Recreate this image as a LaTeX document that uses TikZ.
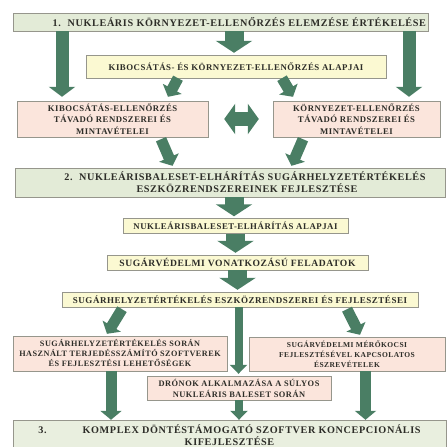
\documentclass[tikz,border=0pt]{standalone}
\usepackage{fontspec}
\setmainfont{Liberation Serif}
\newfontfamily\boxfont[LetterSpace=6]{Liberation Serif}
\usetikzlibrary{arrows.meta}

\definecolor{arrgreen}{RGB}{74,126,100}
\definecolor{headfill}{RGB}{227,235,215}
\definecolor{basefill}{RGB}{251,249,210}
\definecolor{taskfill}{RGB}{251,229,220}
\definecolor{boxline}{RGB}{150,150,140}
\definecolor{txt}{RGB}{45,45,40}

\begin{document}
\begin{tikzpicture}[
    x=1pt, y=-1pt,
    head/.style={
        rectangle, draw=boxline, fill=headfill, text=txt,
        align=center, inner sep=0pt,
        font=\boxfont\bfseries\fontsize{10.2}{12}\selectfont
    },
    base/.style={
        rectangle, draw=boxline, fill=basefill, text=txt,
        align=center, inner sep=0pt,
        font=\boxfont\bfseries\fontsize{9}{10}\selectfont
    },
    task/.style={
        rectangle, draw=boxline, fill=taskfill, text=txt,
        align=center, inner sep=0pt,
        font=\boxfont\bfseries\fontsize{8.7}{11.5}\selectfont
    },
    bigarr/.style={draw=arrgreen, line width=13pt,
        -{Triangle[width=26pt,length=10pt]}},
    widearr/.style={draw=arrgreen, line width=19pt,
        -{Triangle[width=36pt,length=12pt]}},
    midarr/.style={draw=arrgreen, line width=11pt,
        -{Triangle[width=21pt,length=9pt]}},
    thinarr/.style={draw=arrgreen, line width=8pt,
        -{Triangle[width=17pt,length=9pt]}},
]
\useasboundingbox (0,0) rectangle (447,447);

% stage 1
\node[head, text width=411pt, inner xsep=2pt, minimum height=18pt, align=right,
      font=\boxfont\bfseries\fontsize{10.2}{12}\selectfont] (nk) at (220.5,22)
    {1.\ \ NUKLEÁRIS KÖRNYEZET-ELLENŐRZÉS ELEMZÉSE ÉRTÉKELÉSE};
\node[base, minimum width=300pt, minimum height=23pt,
      font=\boxfont\bfseries\fontsize{8.8}{10}\selectfont] (kalap) at (236,66.5)
    {KIBOCSÁTÁS- ÉS KÖRNYEZET-ELLENŐRZÉS ALAPJAI};
\node[task, minimum width=191pt, minimum height=36pt] (kib) at (112.5,119)
    {KIBOCSÁTÁS-ELLENŐRZÉS\\TÁVADÓ RENDSZEREI ÉS\\MINTAVÉTELEI};
\node[task, minimum width=167pt, minimum height=36pt] (kor) at (356.5,119)
    {KÖRNYEZET-ELLENŐRZÉS\\TÁVADÓ RENDSZEREI ÉS\\MINTAVÉTELEI};

% stage 2
\node[head, minimum width=430pt, minimum height=29pt] (nb) at (230,182.5)
    {\hspace*{30pt}2.\ \ NUKLEÁRISBALESET-ELHÁRÍTÁS SUGÁRHELYZETÉRTÉKELÉS\\
     \hspace*{34pt}ESZKÖZRENDSZEREINEK FEJLESZTÉSE};
\node[base, minimum width=225pt, minimum height=15pt,
      font=\boxfont\bfseries\fontsize{8.8}{10}\selectfont] (nbalap) at (235.5,226)
    {NUKLEÁRISBALESET-ELHÁRÍTÁS ALAPJAI};
\node[base, minimum width=261pt, minimum height=15pt,
      font=\boxfont\bfseries\fontsize{9.6}{10}\selectfont] (svf) at (237.5,262.5)
    {SUGÁRVÉDELMI VONATKOZÁSÚ FELADATOK};
\node[base, minimum width=356pt, minimum height=15pt] (she) at (240,299.5)
    {SUGÁRHELYZETÉRTÉKELÉS ESZKÖZRENDSZEREI ÉS FEJLESZTÉSEI};
\node[task, minimum width=214pt, minimum height=35pt,
      font=\boxfont\bfseries\fontsize{8.2}{10}\selectfont] (terj) at (120,353.5)
    {SUGÁRHELYZETÉRTÉKELÉS SORÁN\\HASZNÁLT TERJEDÉSSZÁMÍTÓ SZOFTVEREK\\ÉS FEJLESZTÉSI LEHETŐSÉGEK};
\node[task, minimum width=196pt, minimum height=34pt,
      font=\boxfont\bfseries\fontsize{7.5}{10}\selectfont] (mero) at (347,354)
    {SUGÁRVÉDELMI MÉRŐKOCSI\\FEJLESZTÉSÉVEL KAPCSOLATOS\\ÉSZREVÉTELEK};
\node[task, minimum width=184pt, minimum height=24pt,
      font=\boxfont\bfseries\fontsize{8.4}{11}\selectfont] (dron) at (239,388)
    {DRÓNOK ALKALMAZÁSA A SÚLYOS\\NUKLEÁRIS BALESET SORÁN};

% stage 3
\node[head, minimum width=433pt, minimum height=30pt, fill=headfill!80!white,
      font=\boxfont\bfseries\fontsize{10.2}{12.5}\selectfont] (kd) at (229.5,435)
    {3.\hspace{36pt}KOMPLEX DÖNTÉSTÁMOGATÓ SZOFTVER KONCEPCIONÁLIS\\KIFEJLESZTÉSE};

% arrows, stage 1
\draw[bigarr] ([xshift=-158.5pt]nk.south) -- ([xshift=-50.5pt,yshift=4pt]kib.north);
\draw[bigarr] ([xshift=188.5pt]nk.south) -- ([xshift=52.5pt,yshift=4pt]kor.north);
\draw[widearr] ([xshift=13.5pt]nk.south) -- ([xshift=-2pt,yshift=2pt]kalap.north);
\draw[midarr] ([xshift=-58pt]kalap.south) -- ([xshift=55.5pt,yshift=4pt]kib.north);
\draw[midarr] ([xshift=46pt]kalap.south) -- ([xshift=-63.5pt,yshift=4pt]kor.north);
\draw[draw=arrgreen, line width=14pt,
      {Triangle[width=30pt,length=11pt]}-{Triangle[width=30pt,length=11pt]}]
    ([xshift=16pt]kib.east) -- ([xshift=-14pt]kor.west);
\draw[midarr] ([xshift=48.5pt,yshift=-2pt]kib.south) -- ([xshift=-57.5pt,yshift=2pt]nb.north);
\draw[midarr] ([xshift=-53.5pt,yshift=-2pt]kor.south) -- ([xshift=61.5pt,yshift=2pt]nb.north);

% arrows, stage 2
\draw[widearr] ([xshift=4pt]nb.south) -- ([xshift=-1.5pt,yshift=2pt]nbalap.north);
\draw[widearr] (nbalap.south) -- ([yshift=2pt]nbalap.south |- svf.north);
\draw[widearr] (svf.south) -- ([yshift=2pt]svf.south |- she.north);
\draw[midarr] ([xshift=-118pt,yshift=-2pt]she.south) -- ([xshift=-13pt,yshift=2pt]terj.north);
\draw[midarr] ([xshift=107pt,yshift=-2pt]she.south) -- ([xshift=13pt,yshift=2pt]mero.north);
\draw[thinarr] ([xshift=-1.5pt]she.south) -- ([xshift=-0.5pt,yshift=2pt]dron.north);

% arrows, stage 3
\draw[midarr] ([xshift=-9pt]terj.south) -- ([xshift=-9pt]terj.south |- kd.north);
\draw[midarr] ([xshift=18.5pt]mero.south) -- ([xshift=18.5pt]mero.south |- kd.north);
\draw[thinarr] (dron.south) -- (dron.south |- kd.north);
\end{tikzpicture}
\end{document}
